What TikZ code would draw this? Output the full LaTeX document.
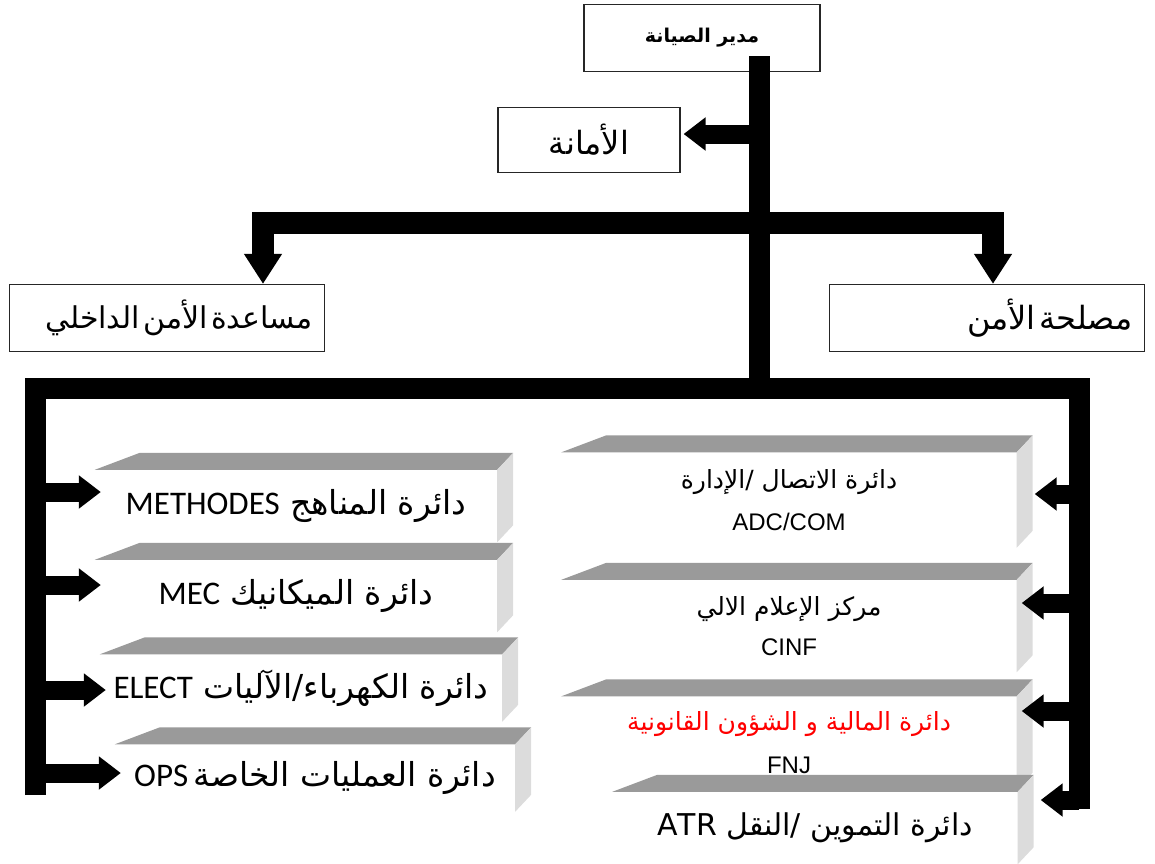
\documentclass[tikz,border=0pt]{standalone}
\usepackage{fontspec}
\setmainfont{Liberation Sans}
\newfontfamily\arabicfont[Script=Arabic]{DejaVu Sans}
\newfontfamily\calibfont{Carlito}
\TeXXeTstate=1
\usetikzlibrary{calc,arrows.meta}
\definecolor{slab_top}{HTML}{9A9A9A}
\definecolor{slab_side}{HTML}{DCDCDC}

\tikzset{
  unitbox/.style={draw=black!85, line width=1.2pt, fill=white, inner sep=0pt},
  rtlbox/.style={unitbox, text width=#1, inner xsep=12pt, align=right},
  slab/.style={fill=white, inner sep=0pt, align=center},
  trunk/.style={line width=21pt, line join=miter},
  bigarrow/.style={line width=22pt, line join=miter, -{Triangle[length=30pt,width=36pt]}},
  smallarrow/.style={line width=19pt, -{Triangle[length=22pt,width=32pt]}},
}
\newcommand{\slabfaces}[1]{%
  \fill[slab_top] (#1.north west) -- ($(#1.north west)+(45,-17)$) -- ($(#1.north east)+(16,-17)$) -- (#1.north east) -- cycle;
  \fill[slab_side] (#1.north east) -- ($(#1.north east)+(16,-17)$) -- ($(#1.south east)+(16,-17)$) -- (#1.south east) -- cycle;
}
\newcommand{\ar}[1]{\arabicfont\beginR #1\endR}
\newcommand{\lat}[1]{\beginL{\calibfont\fontsize{33}{36}\selectfont #1}\endL}

\begin{document}
\begin{tikzpicture}[x=1pt,y=-1pt]
	\useasboundingbox (0,0) rectangle (1155,863);
	\node[unitbox, minimum width=236pt, minimum height=67pt] (dir) at (702,38) {\bfseries\fontsize{19}{22}\selectfont\ar{مدير الصيانة}};
	\node[unitbox, minimum width=182pt, minimum height=65pt] (amana) at (589,140) {\fontsize{32}{36}\selectfont\ar{الأمانة}};
	\node[rtlbox=291pt, minimum height=67pt] (asst) at (167,318) {\fontsize{30}{34}\selectfont\ar{مساعدة الأمن الداخلي}};
	\node[rtlbox=291pt, minimum height=67pt] (sec) at (987,318) {\fontsize{32}{36}\selectfont\ar{مصلحة الأمن}};
	\coordinate (t0) at (759,56);
	\coordinate (j1) at (759,223);
	\coordinate (j2) at (759,388);
	\coordinate (lowL) at (35,795);
	\coordinate (lowR) at (1079,809);
	\draw[trunk] (t0) -- (j2);
	\draw[trunk] (lowL) |- (j2) -| (lowR);
	\draw[bigarrow] (j1) -| ($(asst.north)+(96,0)$);
	\draw[bigarrow] (j1) -| ($(sec.north)+(6,0)$);
	\coordinate (tipA) at ($(amana.east)+(3,-6)$);
	\draw[smallarrow] (t0 |- tipA) -- (tipA);

	\node[slab, minimum width=402pt, minimum height=72pt] (meth) at (296,506) {\fontsize{33}{36}\selectfont\ar{دائرة المناهج \lat{METHODES}}};
	\slabfaces{meth}
	\node[slab, minimum width=402pt, minimum height=72pt] (mec) at (296,596) {\fontsize{33}{36}\selectfont\ar{دائرة الميكانيك \lat{MEC}}};
	\slabfaces{mec}
	\node[slab, minimum width=402pt, minimum height=67pt] (elec) at (301,688) {\fontsize{33}{36}\selectfont\ar{دائرة الكهرباء/الآليات \lat{ELECT}}};
	\slabfaces{elec}
	\node[slab, minimum width=400pt, minimum height=67pt] (ops) at (315,778) {\fontsize{33}{36}\selectfont\ar{دائرة العمليات الخاصة\,\lat{OPS}}};
	\slabfaces{ops}

	\node[slab, font=\fontsize{24}{42}\selectfont, minimum width=455pt, minimum height=95pt] (adc) at (789,500) {\fontsize{25}{42}\selectfont\ar{دائرة الاتصال /الإدارة}\\ ADC/COM};
	\slabfaces{adc}
	\node[slab, font=\fontsize{24}{40}\selectfont, minimum width=455pt, minimum height=92pt] (cinf) at (789,626) {\fontsize{25}{40}\selectfont\ar{مركز الإعلام الالي}\\ CINF};
	\slabfaces{cinf}
	\node[slab, font=\fontsize{24}{43}\selectfont, minimum width=455pt, minimum height=93pt] (fnj) at (789,743) {\fontsize{25}{43}\selectfont\color{red}\ar{دائرة المالية و الشؤون القانونية}\\ FNJ};
	\slabfaces{fnj}
	\node[slab, minimum width=405pt, minimum height=72pt] (atr) at (815,828) {\fontsize{30}{34}\selectfont\ar{دائرة التموين /النقل \beginL{\fontsize{30}{34}\selectfont ATR}\endL}};
	\slabfaces{atr}

	\foreach \b/\dy in {meth/-14, mec/-11, elec/2, ops/-5} {
		\coordinate (tip\b) at ($(\b.west)+(6,\dy)$);
		\draw[smallarrow] (lowL |- tip\b) -- (tip\b);
	}
	\foreach \b/\dx/\dy in {adc/18/-6, cinf/5/-23, fnj/5/-32, atr/23/-28} {
		\coordinate (tip\b) at ($(\b.east)+(\dx,\dy)$);
		\draw[smallarrow] (lowR |- tip\b) -- (tip\b);
	}
\end{tikzpicture}
\end{document}
